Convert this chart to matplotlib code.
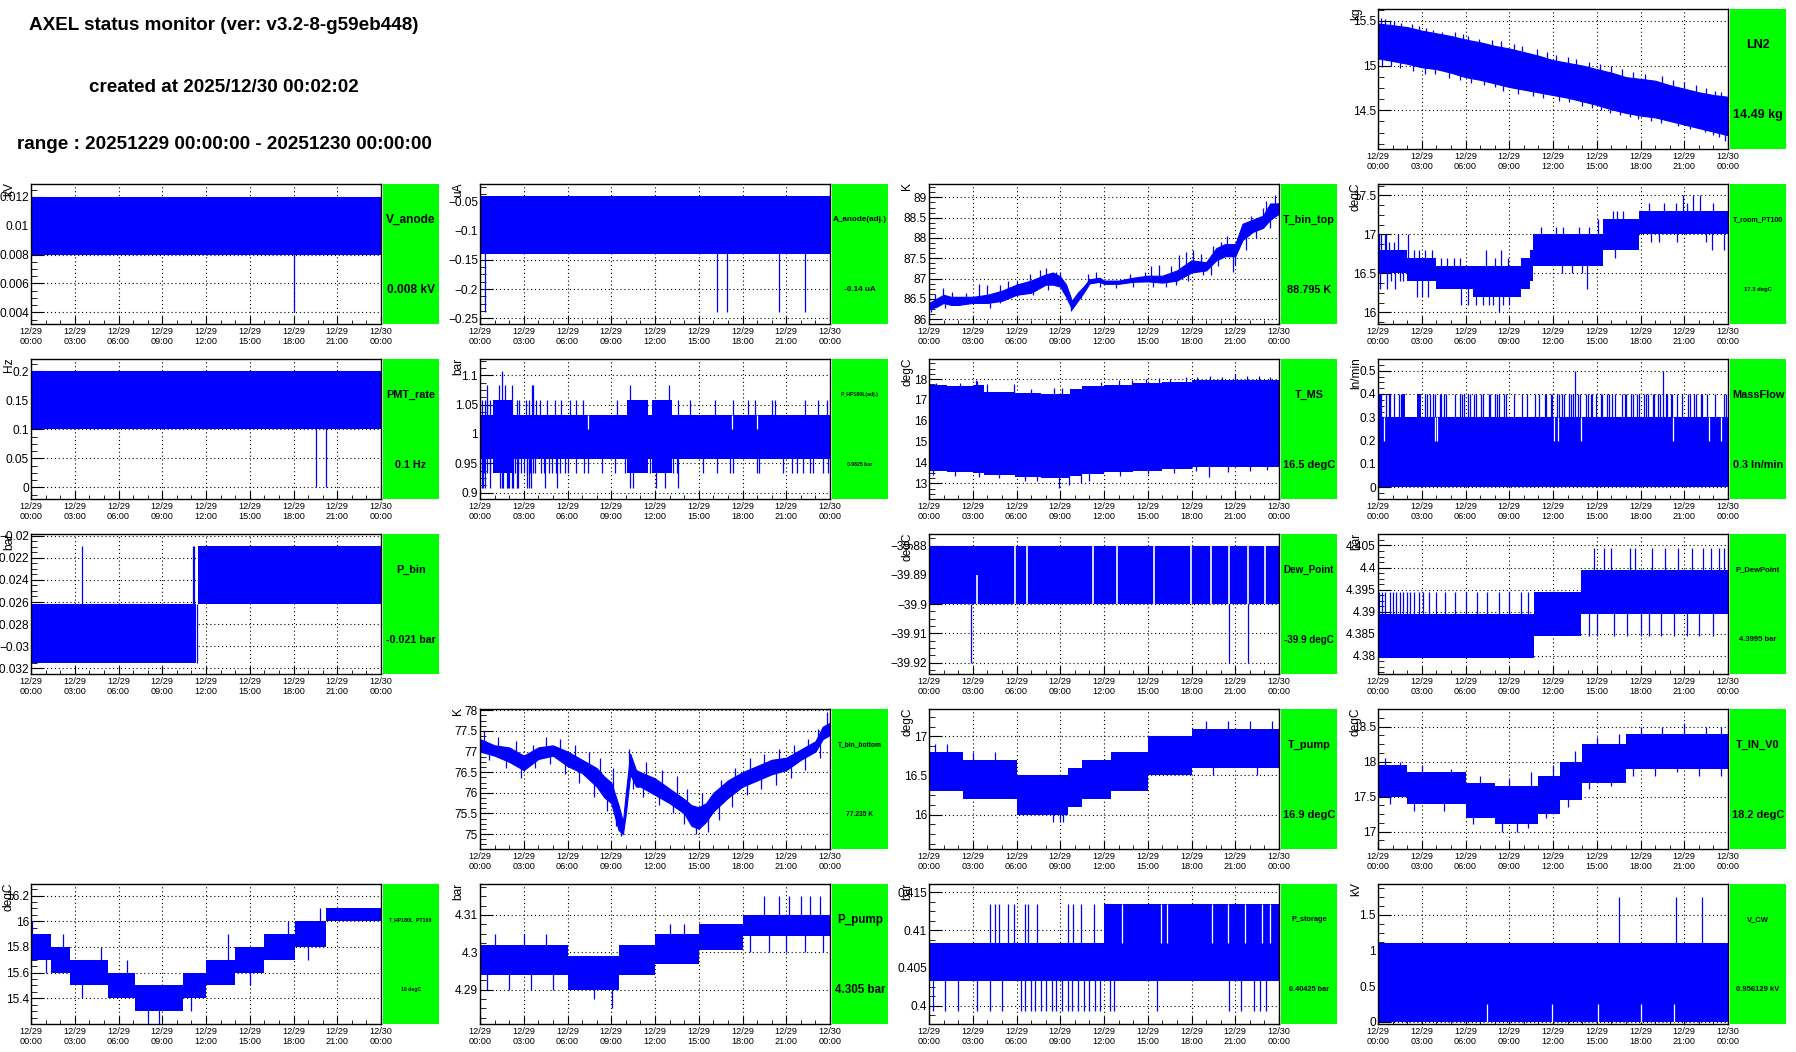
import numpy as np
import matplotlib
matplotlib.use('Agg')
import matplotlib.pyplot as plt
from matplotlib.ticker import FixedLocator, MultipleLocator, AutoMinorLocator, FuncFormatter

plt.rcParams['font.family'] = ['Liberation Sans', 'DejaVu Sans']

W, H = 1796, 1052
BLUE = '#0000ff'
GREEN = '#00ff00'

# ---- data (time in hours since 12/29 00:00) ----
# LN2 [kg]
ln2_t = list(range(25))
ln2_hi = [15.47, 15.45, 15.43, 15.39, 15.36, 15.33, 15.29, 15.26, 15.22, 15.19, 15.15, 15.11, 15.06,
          15.03, 15.00, 14.96, 14.92, 14.87, 14.85, 14.83, 14.78, 14.74, 14.70, 14.67, 14.65]
ln2_lo = [15.08, 15.05, 15.02, 14.98, 14.96, 14.92, 14.87, 14.84, 14.80, 14.76, 14.73, 14.70, 14.67,
          14.64, 14.60, 14.56, 14.51, 14.47, 14.44, 14.42, 14.38, 14.34, 14.30, 14.26, 14.22]
ln2_up_t = [0.2, 0.5, 0.8, 1.1, 1.6, 2.3, 2.8, 3.3, 3.8, 4.4, 5.3, 5.8, 6.2, 6.9, 7.8, 8.4, 9.3, 9.9, 10.9,
            11.6, 12.2, 13.0, 13.6, 14.5, 15.2, 16.0, 16.7, 17.5, 18.3, 19.5, 20.2, 21.0, 21.8, 22.5,
            23.1, 23.5]
ln2_up_v = [15.53, 15.52, 15.50, 15.50, 15.48, 15.46, 15.44, 15.42, 15.40, 15.38, 15.37, 15.35, 15.33,
            15.30, 15.29, 15.27, 15.24, 15.22, 15.19, 15.15, 15.12, 15.10, 15.07, 15.04, 15.02, 15.00,
            14.96, 14.93, 14.91, 14.88, 14.84, 14.82, 14.78, 14.75, 14.72, 14.70]
ln2_dn_t = [0.3, 0.9, 1.5, 2.4, 3.2, 3.9, 4.9, 5.6, 6.4, 7.3, 8.0, 8.6, 9.6, 10.6, 11.3, 12.4, 13.1, 14.0,
            14.7, 15.3, 15.9, 16.6, 17.3, 17.8, 18.7, 19.4, 20.6, 21.4, 22.4, 23.0, 23.4, 23.8]
ln2_dn_v = [14.98, 15.00, 14.97, 14.94, 14.90, 14.90, 14.86, 14.84, 14.80, 14.78, 14.76, 14.72, 14.68,
            14.66, 14.64, 14.60, 14.59, 14.55, 14.53, 14.50, 14.47, 14.45, 14.42, 14.40, 14.38, 14.36,
            14.32, 14.29, 14.26, 14.22, 14.20, 14.16]

# V_anode [kV]
va_t, va_lo, va_hi = [0, 24], [0.008, 0.008], [0.012, 0.012]
va_dn_t, va_dn_v = [18.06], 0.004

# A_anode(adj.) [uA]
aa_t, aa_lo, aa_hi = [0, 24], [-0.14, -0.14], [-0.04, -0.04]
aa_dn_t, aa_dn_v = [0.32, 16.27, 16.96, 20.5, 22.3], -0.24

# T_bin_top [K]
tbt_t = [0, 0.5, 1, 1.5, 2, 3, 4, 5, 6, 7, 8, 8.5, 9, 9.4, 9.8, 10.2, 10.6, 11, 11.7, 12, 13, 14, 15,
         16, 17, 18, 19, 19.7, 20.3, 21, 21.5, 22.2, 22.9, 23.4, 24]
tbt_lo = [86.25, 86.3, 86.4, 86.35, 86.35, 86.4, 86.4, 86.45, 86.6, 86.65, 86.85, 86.85, 86.8, 86.55,
          86.25, 86.45, 86.65, 86.88, 86.92, 86.87, 86.87, 86.92, 86.93, 86.9, 86.95, 87.15, 87.2, 87.45,
          87.55, 87.55, 87.95, 88.15, 88.25, 88.45, 88.6]
tbt_hi = [86.4, 86.5, 86.6, 86.55, 86.55, 86.55, 86.6, 86.7, 86.85, 86.95, 87.1, 87.15, 87.05, 86.85,
          86.45, 86.65, 86.8, 86.98, 87.02, 86.95, 86.95, 87.02, 87.07, 87.07, 87.2, 87.45, 87.4, 87.75,
          87.85, 87.85, 88.35, 88.45, 88.55, 88.85, 88.85]
tbt_up_t = [0.43, 0.96, 1.6, 2.56, 3.43, 3.98, 4.85, 5.42, 6.03, 6.9, 7.6, 8.05, 8.73, 9.0, 10.9, 11.47,
            13.76, 14.79, 15.25, 15.8, 16.6, 17.14, 17.65, 18.1, 18.67, 19.47, 20.0, 20.4, 21.2, 21.5,
            22.1, 22.56, 22.9, 23.13, 23.7, 23.93]
tbt_up_v = [86.61, 86.76, 86.68, 86.64, 86.86, 86.84, 86.84, 86.93, 86.94, 87.11, 87.21, 87.27, 87.17,
            87.16, 87.11, 87.17, 87.11, 87.16, 87.3, 87.34, 87.3, 87.58, 87.65, 87.71, 87.6, 87.79, 87.91,
            88.04, 87.87, 88.24, 88.53, 88.41, 88.74, 88.9, 89.07, 88.86]
tbt_dn_t = [0.16, 1.07, 2.1, 3.25, 4.16, 4.85, 6.0, 7.13, 8.16, 9.19, 9.76, 10.45, 11.7, 12.85, 14.0,
            15.36, 16.27, 16.96, 17.76, 18.8, 19.36, 19.82, 20.85, 20.96, 21.76, 22.45, 23.36]
tbt_dn_v = [86.17, 86.27, 86.35, 86.39, 86.27, 86.39, 86.56, 86.6, 86.72, 86.68, 86.19, 86.51, 86.8,
            86.76, 86.8, 86.8, 86.8, 86.84, 86.93, 87.09, 87.09, 87.3, 87.17, 87.34, 87.71, 88.0, 88.24]

# T_room_PT100 [degC]
tr_t = [0, 2.0, 4.0, 6.5, 9.8, 10.4, 10.6, 15.4, 17.9, 24]
tr_lo = [16.5, 16.4, 16.3, 16.2, 16.3, 16.4, 16.6, 16.8, 17.0, 17.0]
tr_hi = [16.8, 16.7, 16.6, 16.6, 16.7, 16.8, 17.0, 17.2, 17.3, 17.3]
tr_up_t = [0.07, 0.18, 0.46, 0.57, 0.75, 1.1, 1.37, 2.06, 2.5, 2.8, 3.2, 3.7, 4.3, 4.7, 5.2, 5.6, 7.4, 8.0,
           8.4, 8.9, 11.2, 12.2, 12.7, 13.8, 14.5, 15.1, 16.1, 16.4, 16.8, 18.6, 19.6, 20.4, 20.9, 21.2,
           21.6, 22.1, 23.0]
tr_up_v = [17.0, 17.0, 17.0, 17.0, 16.9, 16.9, 17.0, 17.0, 16.8, 16.8, 16.8, 16.8, 16.7, 16.7, 16.7, 16.7,
           16.8, 16.7, 16.8, 16.7, 17.1, 17.1, 17.1, 17.1, 17.1, 17.2, 17.3, 17.3, 17.3, 17.4, 17.4, 17.4,
           17.5, 17.4, 17.5, 17.5, 17.4]
tr_dn_t = [0.11, 0.62, 0.87, 1.14, 1.49, 1.71, 2.7, 3.0, 3.4, 5.7, 6.2, 6.7, 7.2, 7.6, 7.9, 8.3, 8.6, 9.0,
           12.6, 13.3, 14.0, 14.3, 16.25, 18.7, 19.3, 20.5, 22.5, 22.9, 23.7]
tr_dn_v = [16.3, 16.3, 16.4, 16.3, 16.4, 16.4, 16.2, 16.2, 16.2, 16.1, 16.1, 16.1, 16.1, 16.1, 16.1, 16.0,
           16.1, 16.1, 16.5, 16.5, 16.5, 16.3, 16.7, 16.9, 16.9, 16.9, 16.9, 16.8, 16.8]

# PMT_rate [Hz]
pmt_t, pmt_lo, pmt_hi = [0, 24], [0.1, 0.1], [0.2, 0.2]
pmt_dn_t, pmt_dn_v = [19.54, 20.23], 0.0

# P_HP180L(adj.) [bar]
php_t, php_lo, php_hi = [0, 24], [0.958, 0.958], [1.033, 1.033]
php_wide = [(0.91, 2.29), (10.06, 11.54), (11.77, 13.14)]
php_wide_lo, php_wide_hi = 0.933, 1.058
php_up1_t = [0.11, 0.34, 0.5, 0.69, 2.51, 2.67, 3.15, 3.34, 3.66, 3.84, 4.11, 4.57, 5.14, 5.55, 6.17,
             6.58, 7.04, 9.37, 13.6, 14.4, 16.11, 17.37, 18.4, 18.86, 20.0, 20.23, 22.29, 23.2, 23.77]
php_up2_t = [0.5, 1.33, 1.71, 2.19, 3.54, 3.66, 10.29, 12.96]
php_up3_t = [1.51]
php_dn1_t = [0.11, 0.3, 0.5, 0.7, 2.4, 2.6, 2.8, 3.0, 3.2, 3.4, 3.6, 3.8, 4.15, 4.4, 4.7, 4.95, 5.2, 5.5,
             5.8, 6.05, 6.58, 7.1, 7.4, 8.34, 9.26, 9.94, 11.66, 13.26, 13.49, 15.31, 16.23, 17.14, 17.37,
             18.97, 19.15, 20.8, 21.37, 21.71, 22.17, 22.63, 22.86, 23.54, 23.84]
php_dn2_t = [0.14, 0.23, 0.34, 0.69, 1.37, 1.49, 1.6, 1.83, 1.94, 2.01, 2.22, 2.29, 2.51, 2.63, 3.25,
             3.36, 3.5, 4.46, 5.26, 10.29, 10.47, 12.07, 12.69, 13.55]
php_gap_t = [7.43, 17.3, 19.0]

# T_MS [degC]
tms_t = [0, 1.2, 3.0, 3.8, 5.9, 7.7, 9.7, 10.5, 12.0, 14.0, 16.0, 18.0, 24]
tms_lo = [13.6, 13.55, 13.5, 13.4, 13.3, 13.25, 13.35, 13.45, 13.55, 13.6, 13.7, 13.8, 13.8]
tms_hi = [17.7, 17.65, 17.7, 17.4, 17.35, 17.3, 17.5, 17.65, 17.7, 17.8, 17.85, 17.95, 17.95]
tms_up_t = [0.5, 2.1, 3.2, 3.3, 4.0, 5.8, 7.0, 8.6, 9.1, 11.8, 13.0, 13.9, 14.9, 15.8, 16.5, 17.6, 18.4,
            19.3, 20.1, 21.0, 21.8, 22.6, 23.4]
tms_up_v = [17.8, 17.8, 17.95, 17.9, 17.75, 17.75, 17.5, 17.55, 17.55, 17.85, 17.95, 17.95, 18.0, 18.05,
            18.0, 18.1, 18.1, 18.15, 18.1, 18.25, 18.15, 18.15, 18.1]
tms_dn_t = [0.3, 1.8, 3.4, 4.8, 6.6, 7.4, 8.9, 9.6, 10.4, 11.0, 13.1, 15.0, 16.8, 18.3, 19.2, 20.5, 22.0, 23.2]
tms_dn_v = [13.4, 13.35, 13.3, 13.25, 13.1, 13.1, 12.8, 12.9, 13.0, 13.1, 13.35, 13.45, 13.5, 13.6, 13.3,
            13.55, 13.6, 13.65]

# MassFlow [ln/min]
mf_t, mf_lo, mf_hi = [0, 24], [0.0, 0.0], [0.3, 0.3]
mf_hi_blocks = [(0.05, 0.3), (1.67, 1.87), (2.70, 2.97)]
mf_04_t = [0.11, 0.23, 0.53, 0.75, 0.85, 1.10, 1.44, 1.55, 3.20, 3.36, 3.54, 3.77, 3.89, 4.23, 4.34, 4.50,
           4.64, 5.30, 5.60, 5.74, 5.87, 6.15, 6.29, 6.58, 6.74, 7.06, 7.20, 7.61, 7.70, 8.05, 8.18, 8.30,
           8.64, 8.75, 9.30, 9.87, 10.22, 10.74, 11.04, 11.43, 11.54, 11.84, 11.95, 12.27, 12.41, 12.64,
           12.75, 13.10, 13.26, 13.35, 13.69, 13.83, 14.29, 14.38, 14.63, 14.70, 14.93, 15.27, 15.38, 15.73,
           15.84, 16.07, 16.23, 16.75, 16.91, 16.98, 17.33, 17.49, 17.78, 17.90, 18.22, 18.40, 18.49, 18.86,
           18.95, 19.20, 19.31, 19.73, 19.84, 20.07, 20.18, 20.50, 20.87, 21.26, 21.37, 21.67, 21.78, 22.17,
           22.24, 22.56, 23.13, 23.70, 23.84]
mf_05_t = [13.53, 19.54]
mf_dip_t = [0.39, 3.9, 4.07, 12.07, 12.34, 13.9, 20.23, 22.69, 23.5]

# P_bin [bar]
pb_t1, pb_lo1, pb_hi1 = [0, 11.3], [-0.0315, -0.0315], [-0.0262, -0.0262]
pb_t2, pb_lo2, pb_hi2 = [11.43, 24], [-0.0262, -0.0262], [-0.0209, -0.0209]
pb_up_t = [3.52, 11.09, 11.15]
pb_seg_t = [11.36]

# Dew_Point [degC]
dp_t, dp_lo, dp_hi = [0, 24], [-39.90, -39.90], [-39.88, -39.88]
dp_gap_t = [5.92, 6.74, 11.25, 12.89, 15.43, 17.99, 19.36, 20.55, 21.87, 23.06]
dp_half_gap_t = [3.29]
dp_dn_t = [2.9, 20.55, 21.87]

# P_DewPoint [bar]
pdp_t = [0, 10.7, 13.9, 24]
pdp_lo = [4.3795, 4.3845, 4.3895, 4.3895]
pdp_hi = [4.3895, 4.3945, 4.3995, 4.3995]
pdp_up_t = [0.1, 0.3, 0.5, 0.8, 1.0, 1.2, 1.5, 1.7, 2.0, 2.2, 2.5, 2.8, 3.1, 3.5, 4.0, 4.6, 5.3, 6.0,
            6.8, 7.5, 8.3, 9.0, 9.8, 10.3]
pdp_up2_t = [14.8, 15.5, 16.0, 17.3, 17.6, 18.8, 19.7, 20.6, 21.5, 22.3, 22.8, 23.4, 23.7]
pdp_dn2_t = [14.5, 15.0, 16.2, 17.1, 18.0, 18.6, 19.4, 20.3, 21.2, 22.0, 23.0]

# T_bin_bottom [K]
tbb_t = [0, 1, 2, 3, 4, 5, 6, 7, 8, 8.5, 9, 9.5, 9.8, 10, 10.3, 10.7, 11, 12, 13, 14, 14.5, 15, 15.5,
         16, 17, 18, 19, 20, 21, 22, 23, 23.5, 24]
tbb_hi = [77.3, 77.15, 77.1, 76.9, 77.1, 77.15, 77.0, 76.8, 76.6, 76.4, 76.25, 75.7, 75.3, 76.0, 76.95,
          76.55, 76.5, 76.35, 76.1, 75.85, 75.7, 75.65, 75.75, 76.0, 76.3, 76.5, 76.65, 76.8, 76.85,
          77.05, 77.25, 77.6, 77.7]
tbb_lo = [77.0, 76.9, 76.75, 76.55, 76.82, 76.9, 76.65, 76.48, 76.15, 75.9, 75.75, 75.1, 75.0, 75.5,
          76.45, 76.15, 76.15, 75.95, 75.75, 75.5, 75.2, 75.13, 75.3, 75.55, 75.88, 76.15, 76.3, 76.45,
          76.55, 76.8, 77.0, 77.3, 77.4]
tbb_up_t = [0.3, 1.2, 2.5, 3.6, 4.5, 5.5, 6.5, 7.5, 8.2, 9.1, 10.2, 11.4, 12.5, 13.5, 14.2, 15.2, 16.5,
            17.5, 18.5, 19.5, 20.5, 21.5, 22.5, 23.2, 23.8]
tbb_up_v = [77.5, 77.35, 77.25, 77.15, 77.35, 77.3, 77.15, 77.0, 76.85, 76.6, 77.05, 76.75, 76.55, 76.4,
            76.1, 76.0, 76.3, 76.6, 76.85, 76.95, 77.05, 77.15, 77.3, 77.55, 77.95]
tbb_dn_t = [0.6, 1.8, 2.8, 3.8, 4.8, 5.8, 6.8, 7.8, 8.7, 9.3, 9.7, 10.5, 11.2, 12.3, 13.2, 14.0, 14.8,
            15.6, 16.4, 17.3, 18.3, 19.3, 20.3, 21.3, 22.3, 23.3]
tbb_dn_v = [76.8, 76.6, 76.35, 76.6, 76.7, 76.45, 76.25, 75.9, 75.55, 75.2, 74.95, 76.1, 75.9, 75.7, 75.5,
            75.25, 75.0, 75.05, 75.35, 75.65, 75.95, 76.1, 76.2, 76.35, 76.55, 76.85]

# T_pump [degC]
tp_t = [0, 2.3, 6.0, 9.5, 10.5, 12.5, 15.0, 18.0, 24]
tp_lo = [16.3, 16.2, 16.0, 16.1, 16.2, 16.3, 16.5, 16.6, 16.6]
tp_hi = [16.8, 16.7, 16.5, 16.6, 16.7, 16.8, 17.0, 17.1, 17.1]
tp_up_t = [0.4, 1.2, 3.0, 4.5, 19.0, 20.5, 22.0, 23.5]
tp_up_v = [16.9, 16.9, 16.8, 16.8, 17.2, 17.2, 17.2, 17.2]
tp_dn_t = [8.5, 9.0, 9.2, 19.5, 22.5]
tp_dn_v = [15.9, 15.9, 15.9, 16.5, 16.5]

# T_IN_V0 [degC]
tin_t = [0, 2, 6, 8, 11, 12.5, 14, 17, 24]
tin_lo = [17.5, 17.4, 17.2, 17.1, 17.25, 17.45, 17.7, 17.9, 17.9]
tin_hi = [17.95, 17.85, 17.7, 17.65, 17.8, 18.0, 18.25, 18.4, 18.4]
tin_up_t = [0.5, 1.5, 3.0, 5.0, 7.0, 9.0, 10.5, 12.0, 13.5, 15.0, 16.5, 18.0, 19.5, 21.0, 22.5, 23.5]
tin_up_v = [18.05, 18.0, 17.95, 17.9, 17.8, 17.75, 17.85, 17.95, 18.15, 18.35, 18.4, 18.5, 18.5, 18.55,
            18.5, 18.5]
tin_dn_t = [0.8, 2.5, 4.5, 6.5, 8.5, 9.5, 10.3, 11.5, 13.0, 14.5, 16.0, 17.5, 19.0, 20.5, 22.0, 23.5]
tin_dn_v = [17.4, 17.3, 17.3, 17.1, 17.0, 17.0, 17.05, 17.2, 17.35, 17.6, 17.65, 17.8, 17.8, 17.85,
            17.8, 17.8]

# T_HP180L_PT100 [degC]
thp_t = [0, 1.4, 2.7, 5.3, 7.1, 10.4, 12.0, 14.0, 16.0, 18.1, 20.2, 24]
thp_lo = [15.7, 15.6, 15.5, 15.4, 15.3, 15.4, 15.5, 15.6, 15.7, 15.8, 16.0, 16.0]
thp_hi = [15.9, 15.8, 15.7, 15.6, 15.5, 15.6, 15.7, 15.8, 15.9, 16.0, 16.1, 16.1]
thp_up_t, thp_up_v = [0.1, 2.2, 4.8, 6.6, 13.5, 17.6, 19.8], [16.0, 15.9, 15.8, 15.7, 15.9, 16.0, 16.1]
thp_dn_t, thp_dn_v = [1.0, 3.5, 8.0, 8.8, 11.0, 15.0, 19.0], [15.6, 15.4, 15.2, 15.2, 15.3, 15.5, 15.7]

# P_pump [bar]
pp_t = [0, 6.0, 9.5, 12.0, 15.0, 18.0, 24]
pp_lo = [4.294, 4.290, 4.294, 4.297, 4.3005, 4.3045, 4.3045]
pp_hi = [4.302, 4.299, 4.302, 4.305, 4.3075, 4.310, 4.310]
pp_up_t = [1.0, 3.0, 4.5, 13.0, 14.0, 19.5, 20.5, 21.2, 22.0, 22.6, 23.3]
pp_up_v = [4.305, 4.305, 4.305, 4.3075, 4.3075, 4.315, 4.315, 4.315, 4.315, 4.315, 4.315]
pp_dn_t = [0.5, 2.0, 3.5, 5.0, 7.8, 9.05, 18.5, 19.8, 21.0, 22.3, 23.5]
pp_dn_v = [4.290, 4.290, 4.290, 4.290, 4.2875, 4.285, 4.300, 4.300, 4.300, 4.300, 4.300]

# P_storage [bar]
ps_t = [0, 12.0, 24]
ps_lo = [0.4033, 0.4033, 0.4033]
ps_hi = [0.4083, 0.4135, 0.4135]
ps_up_t = [4.2, 4.5, 4.8, 5.4, 5.8, 6.6, 6.8, 7.4, 9.5, 9.9, 10.4, 11.3]
ps_dn_t = [0.3, 1.1, 2.0, 3.3, 4.2, 5.0, 6.3, 6.6, 7.0, 7.3, 7.7, 8.0, 8.4, 8.7, 9.1, 9.5, 9.8, 10.2,
           10.6, 11.0, 11.4, 11.7, 12.4, 12.7, 15.6, 20.6, 21.4, 22.3, 22.7, 23.1]
ps_gap_t = [13.2, 15.9, 16.3, 19.4, 20.5, 21.7, 22.8, 23.4]

# V_CW [kV]
vcw_t, vcw_lo, vcw_hi = [0, 24], [0.0, 0.0], [1.1, 1.1]
vcw_up_t, vcw_up_v = [16.5, 20.4, 22.2], 1.75
vcw_dip_t = [7.5, 11.9, 15.1, 18.0, 20.3]

# panel label, value, unit, y range, y ticks, box font sizes
panels = {
    'LN2': (0, 3, 'LN2', '14.49 kg', 'kg', (14.066, 15.632), [14.5, 15, 15.5], 9.0, 9.0),
    'V_anode': (1, 0, 'V_anode', '0.008 kV', 'kV', (0.00319, 0.01289), [0.004, 0.006, 0.008, 0.01, 0.012], 8.6, 8.6),
    'A_anode': (1, 1, 'A_anode(adj.)', '-0.14 uA', 'uA', (-0.2597, -0.0203), [-0.25, -0.2, -0.15, -0.1, -0.05], 5.9, 5.9),
    'T_bin_top': (1, 2, 'T_bin_top', '88.795 K', 'K', (85.88, 89.33), [86, 86.5, 87, 87.5, 88, 88.5, 89], 7.8, 7.8),
    'T_room': (1, 3, 'T_room_PT100', '17.3 degC', 'degC', (15.85, 17.646), [16, 16.5, 17, 17.5], 5.0, 4.2),
    'PMT_rate': (2, 0, 'PMT_rate', '0.1 Hz', 'Hz', (-0.0202, 0.2213), [0, 0.05, 0.1, 0.15, 0.2], 7.8, 7.8),
    'P_HP': (2, 1, 'P_HP180L(adj.)', '0.9825 bar', 'bar', (0.889, 1.128), [0.9, 0.95, 1, 1.05, 1.1], 3.7, 3.7),
    'T_MS': (2, 2, 'T_MS', '16.5 degC', 'degC', (12.25, 18.96), [13, 14, 15, 16, 17, 18], 7.8, 7.9),
    'MassFlow': (2, 3, 'MassFlow', '0.3 ln/min', 'ln/min', (-0.05, 0.55), [0, 0.1, 0.2, 0.3, 0.4, 0.5], 7.8, 7.8),
    'P_bin': (3, 0, 'P_bin', '-0.021 bar', 'bar', (-0.03251, -0.01985), [-0.032, -0.03, -0.028, -0.026, -0.024, -0.022, -0.02], 7.8, 7.7),
    'Dew_Point': (3, 2, 'Dew_Point', '-39.9 degC', 'degC', (-39.9239, -39.876), [-39.92, -39.91, -39.9, -39.89, -39.88], 7.1, 7.1),
    'P_DewPoint': (3, 3, 'P_DewPoint', '4.3995 bar', 'bar', (4.3759, 4.4076), [4.38, 4.385, 4.39, 4.395, 4.4, 4.405], 5.5, 5.5),
    'T_bin_bottom': (4, 1, 'T_bin_bottom', '77.235 K', 'K', (74.64, 78.03), [75, 75.5, 76, 76.5, 77, 77.5, 78], 4.8, 4.8),
    'T_pump': (4, 2, 'T_pump', '16.9 degC', 'degC', (15.56, 17.35), [16, 16.5, 17], 7.9, 7.9),
    'T_IN_V0': (4, 3, 'T_IN_V0', '18.2 degC', 'degC', (16.75, 18.75), [17, 17.5, 18, 18.5], 7.9, 7.9),
    'T_HP180L': (5, 0, 'T_HP180L_PT100', '16 degC', 'degC', (15.20, 16.29), [15.4, 15.6, 15.8, 16, 16.2], 3.7, 3.7),
    'P_pump': (5, 1, 'P_pump', '4.305 bar', 'bar', (4.2808, 4.3183), [4.29, 4.3, 4.31], 8.4, 8.4),
    'P_storage': (5, 2, 'P_storage', '0.40425 bar', 'bar', (0.3976, 0.4161), [0.4, 0.405, 0.41, 0.415], 5.3, 5.3),
    'V_CW': (5, 3, 'V_CW', '0.956129 kV', 'kV', (-0.03, 1.935), [0, 0.5, 1, 1.5], 5.5, 5.5),
}


def level(ts, t, v, step):
    ts = np.atleast_1d(np.asarray(ts, dtype=float))
    if step:
        idx = np.clip(np.searchsorted(t, ts, side='right') - 1, 0, len(t) - 1)
        return np.asarray(v, dtype=float)[idx]
    return np.interp(ts, t, v)


def band(ax, t, lo, hi, step=True):
    if step:
        ax.fill_between(t, lo, hi, step='post', color=BLUE, lw=0)
    else:
        ax.fill_between(t, lo, hi, color=BLUE, lw=0.8, edgecolor=BLUE)


def tips(ax, ts, tip, t, lo, hi, step=True):
    base = (level(ts, t, lo, step) + level(ts, t, hi, step)) / 2
    tip = np.broadcast_to(np.asarray(tip, dtype=float), base.shape)
    ax.vlines(ts, base, tip, color=BLUE, lw=0.9)


def segs(ax, ts, y0, y1, color=BLUE, lw=0.9):
    ax.vlines(ts, y0, y1, color=color, lw=lw)


def fmt(v, pos):
    s = '%g' % round(v, 6)
    return s.replace('-', '\u2212')


fig = plt.figure(figsize=(W / 100, H / 100), dpi=100)

fig.text(224 / W, 1 - 26 / H, 'AXEL status monitor (ver: v3.2-8-g59eb448)', ha='center', va='center',
         fontsize=13.6, weight='bold')
fig.text(224 / W, 1 - 87 / H, 'created at 2025/12/30 00:02:02', ha='center', va='center',
         fontsize=13.6, weight='bold')
fig.text(224 / W, 1 - 144 / H, 'range : 20251229 00:00:00 - 20251230 00:00:00', ha='center', va='center',
         fontsize=13.6, weight='bold')

hours = list(range(0, 25, 3))
xlabels = ['12/%d\n%02d:00' % (29 + h // 24, h % 24) for h in hours]

axes = {}
for key, (row, col, label, value, unit, ylim, yticks, fs1, fs2) in panels.items():
    x0 = 31 + 449 * col
    y0 = 9 + 175 * row
    ax = fig.add_axes([x0 / W, 1 - (y0 + 140) / H, 350 / W, 140 / H])
    box = fig.add_axes([(x0 + 352) / W, 1 - (y0 + 140) / H, 56 / W, 140 / H])
    box.set_facecolor(GREEN)
    box.set_xticks([])
    box.set_yticks([])
    for s in box.spines.values():
        s.set_visible(False)
    box.text(0.5, 0.745, label, ha='center', va='center', fontsize=fs1, weight='bold', transform=box.transAxes)
    box.text(0.5, 0.245, value, ha='center', va='center', fontsize=fs2, weight='bold', transform=box.transAxes)

    ax.set_xlim(0, 24)
    ax.set_ylim(*ylim)
    ax.xaxis.set_major_locator(FixedLocator(hours))
    ax.set_xticklabels(xlabels)
    ax.xaxis.set_minor_locator(MultipleLocator(1))
    ax.yaxis.set_major_locator(FixedLocator(yticks))
    ax.yaxis.set_major_formatter(FuncFormatter(fmt))
    ax.yaxis.set_minor_locator(AutoMinorLocator(4))
    ax.tick_params(which='both', direction='in', top=False, right=False)
    ax.tick_params(axis='x', which='major', length=6, labelsize=6.6, pad=2)
    ax.tick_params(axis='x', which='minor', length=3)
    ax.tick_params(axis='y', which='major', length=9, labelsize=8.6, pad=1.5)
    ax.tick_params(axis='y', which='minor', length=4.5)
    for lbl in ax.get_xticklabels():
        lbl.set_linespacing(1.2)
    ax.grid(True, which='major', ls=(0, (1, 2.5)), color='black', lw=0.8)
    ax.set_axisbelow(True)
    for s in ax.spines.values():
        s.set_linewidth(1.0)
    ax.text(-22 / 350, 1.01, unit, transform=ax.transAxes, rotation=90, ha='center', va='top', fontsize=8.6)
    axes[key] = ax

# ---- draw the traces ----
ax = axes['LN2']
band(ax, ln2_t, ln2_lo, ln2_hi, step=False)
tips(ax, ln2_up_t, ln2_up_v, ln2_t, ln2_lo, ln2_hi, step=False)
tips(ax, ln2_dn_t, ln2_dn_v, ln2_t, ln2_lo, ln2_hi, step=False)

ax = axes['V_anode']
band(ax, va_t, va_lo, va_hi)
tips(ax, va_dn_t, va_dn_v, va_t, va_lo, va_hi)

ax = axes['A_anode']
band(ax, aa_t, aa_lo, aa_hi)
tips(ax, aa_dn_t, aa_dn_v, aa_t, aa_lo, aa_hi)

ax = axes['T_bin_top']
band(ax, tbt_t, tbt_lo, tbt_hi, step=False)
tips(ax, tbt_up_t, tbt_up_v, tbt_t, tbt_lo, tbt_hi, step=False)
tips(ax, tbt_dn_t, tbt_dn_v, tbt_t, tbt_lo, tbt_hi, step=False)

ax = axes['T_room']
band(ax, tr_t, tr_lo, tr_hi)
tips(ax, tr_up_t, tr_up_v, tr_t, tr_lo, tr_hi)
tips(ax, tr_dn_t, tr_dn_v, tr_t, tr_lo, tr_hi)

ax = axes['PMT_rate']
band(ax, pmt_t, pmt_lo, pmt_hi)
tips(ax, pmt_dn_t, pmt_dn_v, pmt_t, pmt_lo, pmt_hi)

ax = axes['P_HP']
band(ax, php_t, php_lo, php_hi)
for a, b in php_wide:
    band(ax, [a, b], [php_wide_lo] * 2, [php_wide_hi] * 2)
tips(ax, php_up1_t, 1.058, php_t, php_lo, php_hi)
tips(ax, php_up2_t, 1.083, php_t, php_lo, php_hi)
tips(ax, php_up3_t, 1.108, php_t, php_lo, php_hi)
tips(ax, php_dn1_t, 0.933, php_t, php_lo, php_hi)
tips(ax, php_dn2_t, 0.908, php_t, php_lo, php_hi)
segs(ax, php_gap_t, 1.008, 1.033, color='white')

ax = axes['T_MS']
band(ax, tms_t, tms_lo, tms_hi)
tips(ax, tms_up_t, tms_up_v, tms_t, tms_lo, tms_hi)
tips(ax, tms_dn_t, tms_dn_v, tms_t, tms_lo, tms_hi)

ax = axes['MassFlow']
band(ax, mf_t, mf_lo, mf_hi)
for a, b in mf_hi_blocks:
    band(ax, [a, b], [0.3, 0.3], [0.4, 0.4])
tips(ax, mf_04_t, 0.4, mf_t, mf_lo, mf_hi)
tips(ax, mf_05_t, 0.5, mf_t, mf_lo, mf_hi)
segs(ax, mf_dip_t, 0.2, 0.3, color='white')

ax = axes['P_bin']
band(ax, pb_t1, pb_lo1, pb_hi1)
band(ax, pb_t2, pb_lo2, pb_hi2)
tips(ax, pb_up_t, -0.0209, pb_t1, pb_lo1, pb_hi1)
segs(ax, pb_seg_t, -0.0315, -0.0262)

ax = axes['Dew_Point']
band(ax, dp_t, dp_lo, dp_hi)
segs(ax, dp_gap_t, -39.9, -39.88, color='white', lw=1.2)
segs(ax, dp_half_gap_t, -39.9, -39.89, color='white', lw=1.2)
segs(ax, dp_dn_t, -39.92, -39.9)

ax = axes['P_DewPoint']
band(ax, pdp_t, pdp_lo, pdp_hi)
tips(ax, pdp_up_t, 4.3945, pdp_t, pdp_lo, pdp_hi)
tips(ax, pdp_up2_t, 4.4045, pdp_t, pdp_lo, pdp_hi)
tips(ax, pdp_dn2_t, 4.3845, pdp_t, pdp_lo, pdp_hi)

ax = axes['T_bin_bottom']
band(ax, tbb_t, tbb_lo, tbb_hi, step=False)
tips(ax, tbb_up_t, tbb_up_v, tbb_t, tbb_lo, tbb_hi, step=False)
tips(ax, tbb_dn_t, tbb_dn_v, tbb_t, tbb_lo, tbb_hi, step=False)

ax = axes['T_pump']
band(ax, tp_t, tp_lo, tp_hi)
tips(ax, tp_up_t, tp_up_v, tp_t, tp_lo, tp_hi)
tips(ax, tp_dn_t, tp_dn_v, tp_t, tp_lo, tp_hi)

ax = axes['T_IN_V0']
band(ax, tin_t, tin_lo, tin_hi)
tips(ax, tin_up_t, tin_up_v, tin_t, tin_lo, tin_hi)
tips(ax, tin_dn_t, tin_dn_v, tin_t, tin_lo, tin_hi)

ax = axes['T_HP180L']
band(ax, thp_t, thp_lo, thp_hi)
tips(ax, thp_up_t, thp_up_v, thp_t, thp_lo, thp_hi)
tips(ax, thp_dn_t, thp_dn_v, thp_t, thp_lo, thp_hi)

ax = axes['P_pump']
band(ax, pp_t, pp_lo, pp_hi)
tips(ax, pp_up_t, pp_up_v, pp_t, pp_lo, pp_hi)
tips(ax, pp_dn_t, pp_dn_v, pp_t, pp_lo, pp_hi)

ax = axes['P_storage']
band(ax, ps_t, ps_lo, ps_hi)
tips(ax, ps_up_t, 0.4135, ps_t, ps_lo, ps_hi)
tips(ax, ps_dn_t, 0.3993, ps_t, ps_lo, ps_hi)
segs(ax, ps_gap_t, 0.4083, 0.4135, color='white')

ax = axes['V_CW']
band(ax, vcw_t, vcw_lo, vcw_hi)
tips(ax, vcw_up_t, vcw_up_v, vcw_t, vcw_lo, vcw_hi)
segs(ax, vcw_dip_t, 0.0, 0.25, color='white')

fig.savefig('out.png', dpi=100)
